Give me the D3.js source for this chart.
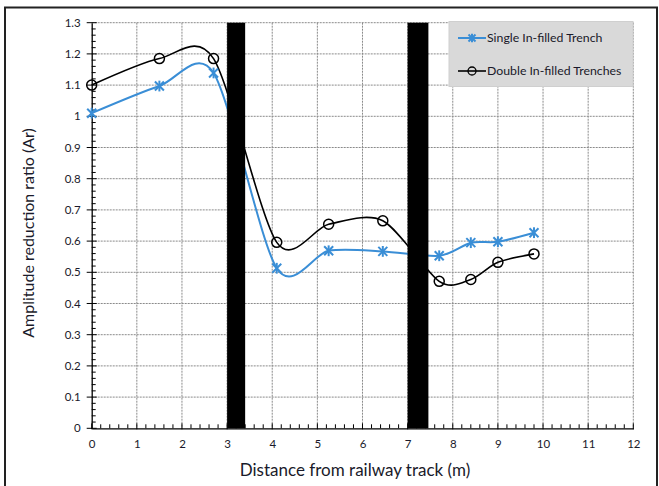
<!doctype html>
<html>
<head>
<meta charset="utf-8">
<script src="https://d3js.org/d3.v7.min.js"></script>
<style>
  body { margin: 0; background: #fff; }
  text { font-family: Lato, "Open Sans", sans-serif; fill: #1a1a2a; }
</style>
</head>
<body>
<div id="chart"></div>
<script>
// distances (m) where the ratio was measured
var distances = [0, 1.5, 2.7, 4.1, 5.25, 6.45, 7.7, 8.4, 9.0, 9.8];
var singleTrench = [1.01, 1.097, 1.139, 0.513, 0.569, 0.567, 0.553, 0.595, 0.598, 0.627];
var doubleTrench = [1.10, 1.185, 1.185, 0.596, 0.654, 0.665, 0.471, 0.477, 0.532, 0.559];
// trench positions [start, end] in m
var trenches = [[3.0, 3.4], [7.0, 7.46]];
var xTicks = [0, 1, 2, 3, 4, 5, 6, 7, 8, 9, 10, 11, 12];
var yTicks = [0, 0.1, 0.2, 0.3, 0.4, 0.5, 0.6, 0.7, 0.8, 0.9, 1, 1.1, 1.2, 1.3];
var seriesNames = ["Single In-filled Trench", "Double In-filled Trenches"];

var W = 659, H = 486;
var margin = {top: 22.7, right: 25.7, bottom: 57.7, left: 91.7},
    width = W - margin.left - margin.right,
    height = H - margin.top - margin.bottom;

var svg = d3.select("#chart").append("svg")
    .attr("width", W)
    .attr("height", H);

// outer frame
svg.append("rect")
    .attr("x", 5).attr("y", 7.5)
    .attr("width", 652).attr("height", 490)
    .attr("fill", "none")
    .attr("stroke", "#222")
    .attr("stroke-width", 2);

var g = svg.append("g")
    .attr("transform", "translate(" + margin.left + "," + margin.top + ")");

var x = d3.scaleLinear().domain([0, 12]).range([0, width]);
var y = d3.scaleLinear().domain([0, 1.3]).range([height, 0]);

// grid
g.selectAll(".vgrid").data(xTicks.slice(1)).enter().append("line")
    .attr("x1", function(d) { return x(d); })
    .attr("x2", function(d) { return x(d); })
    .attr("y1", 0).attr("y2", height)
    .attr("stroke", "#8a8a8a")
    .attr("stroke-dasharray", "2,1");
g.selectAll(".hgrid").data(yTicks.slice(1)).enter().append("line")
    .attr("x1", 0).attr("x2", width)
    .attr("y1", function(d) { return y(d); })
    .attr("y2", function(d) { return y(d); })
    .attr("stroke", "#8a8a8a")
    .attr("stroke-dasharray", "2,1");

// minor ticks
var xMinor = d3.range(0, 60).map(function(i) { return i * 0.2; }).filter(function(d, i) { return i % 5 != 0; });
var yMinor = d3.range(0, 65).map(function(i) { return i * 0.02; }).filter(function(d, i) { return i % 5 != 0; });
g.selectAll(".xminor").data(xMinor).enter().append("line")
    .attr("x1", function(d) { return x(d); })
    .attr("x2", function(d) { return x(d); })
    .attr("y1", height).attr("y2", height - 4)
    .attr("stroke", "#000");
g.selectAll(".yminor").data(yMinor).enter().append("line")
    .attr("x1", 0).attr("x2", 4)
    .attr("y1", function(d) { return y(d); })
    .attr("y2", function(d) { return y(d); })
    .attr("stroke", "#000");

// axes
var xAxis = g.append("g")
    .attr("transform", "translate(0," + height + ")")
    .call(d3.axisBottom(x).tickValues(xTicks).tickSize(0).tickPadding(12).tickFormat(d3.format("d")));
var yAxis = g.append("g")
    .call(d3.axisLeft(y).tickValues(yTicks).tickSize(0).tickPadding(11).tickFormat(function(d) { return d3.format("")(+d.toFixed(1)); }));
[xAxis, yAxis].forEach(function(a) {
    a.select(".domain").attr("stroke", "#000").attr("stroke-width", 1.3);
    a.selectAll("text").style("font-size", "11.5px").attr("fill", "#1a1a2a");
});
// major ticks crossing the axes
g.selectAll(".xmajor").data(xTicks).enter().append("line")
    .attr("x1", function(d) { return x(d); })
    .attr("x2", function(d) { return x(d); })
    .attr("y1", height - 5).attr("y2", height + 1)
    .attr("stroke", "#000");
g.selectAll(".ymajor").data(yTicks).enter().append("line")
    .attr("x1", -5).attr("x2", 5)
    .attr("y1", function(d) { return y(d); })
    .attr("y2", function(d) { return y(d); })
    .attr("stroke", "#000");

// series lines (smoothed like the spreadsheet)
var curve = d3.curveCardinal.tension(0.15);
var line = d3.line()
    .x(function(d) { return x(d[0]); })
    .y(function(d) { return y(d[1]); })
    .curve(curve);

var single = distances.map(function(d, i) { return [d, singleTrench[i]]; });
var dbl = distances.map(function(d, i) { return [d, doubleTrench[i]]; });

var blue = "#3a8ed6";

g.append("path").datum(dbl)
    .attr("d", line)
    .attr("fill", "none")
    .attr("stroke", "#000")
    .attr("stroke-width", 1.6);
g.append("path").datum(single)
    .attr("d", line)
    .attr("fill", "none")
    .attr("stroke", blue)
    .attr("stroke-width", 2);

function star(sel, cx, cy, r) {
    var gg = sel.append("g").attr("transform", "translate(" + cx + "," + cy + ")");
    [[-r, -r, r, r], [-r, r, r, -r], [0, -r * 1.2, 0, r * 1.2]].forEach(function(s) {
        gg.append("line")
            .attr("x1", s[0]).attr("y1", s[1]).attr("x2", s[2]).attr("y2", s[3])
            .attr("stroke", blue).attr("stroke-width", 2);
    });
}

single.forEach(function(d) { star(g, x(d[0]), y(d[1]), 4.5); });
g.selectAll(".circ").data(dbl).enter().append("circle")
    .attr("cx", function(d) { return x(d[0]); })
    .attr("cy", function(d) { return y(d[1]); })
    .attr("r", 5)
    .attr("fill", "none")
    .attr("stroke", "#000")
    .attr("stroke-width", 1.5);

// trenches on top
g.selectAll(".trench").data(trenches).enter().append("rect")
    .attr("x", function(d) { return x(d[0]); })
    .attr("width", function(d) { return x(d[1]) - x(d[0]); })
    .attr("y", 0)
    .attr("height", height)
    .attr("fill", "#000");

// legend
var lg = g.append("g").attr("transform", "translate(" + (449 - margin.left) + "," + (21.5 - margin.top) + ")");
lg.append("rect")
    .attr("width", 184).attr("height", 65)
    .attr("fill", "#d9d9d9")
    .attr("stroke", "#cfcfcf");
var legendRows = [
    {name: seriesNames[0], color: blue, y: 16.5},
    {name: seriesNames[1], color: "#000", y: 49.5}
];
legendRows.forEach(function(r, i) {
    lg.append("line")
        .attr("x1", 9).attr("x2", 37)
        .attr("y1", r.y).attr("y2", r.y)
        .attr("stroke", r.color)
        .attr("stroke-width", i == 0 ? 2 : 1.6);
    if (i == 0) {
        star(lg, 23, r.y, 3.5);
    } else {
        lg.append("circle").attr("cx", 23).attr("cy", r.y).attr("r", 4)
            .attr("fill", "none").attr("stroke", "#000").attr("stroke-width", 1.3);
    }
    lg.append("text")
        .attr("x", 38).attr("y", r.y)
        .attr("dy", "0.35em")
        .style("font-size", "12.3px")
        .text(r.name);
});

// axis titles
svg.append("text")
    .attr("x", 355)
    .attr("y", 476)
    .attr("text-anchor", "middle")
    .style("font-size", "17px")
    .text("Distance from railway track (m)");
svg.append("text")
    .attr("transform", "translate(34,233) rotate(-90)")
    .attr("text-anchor", "middle")
    .style("font-size", "16px")
    .text("Amplitude reduction ratio (Ar)");
</script>
</body>
</html>
